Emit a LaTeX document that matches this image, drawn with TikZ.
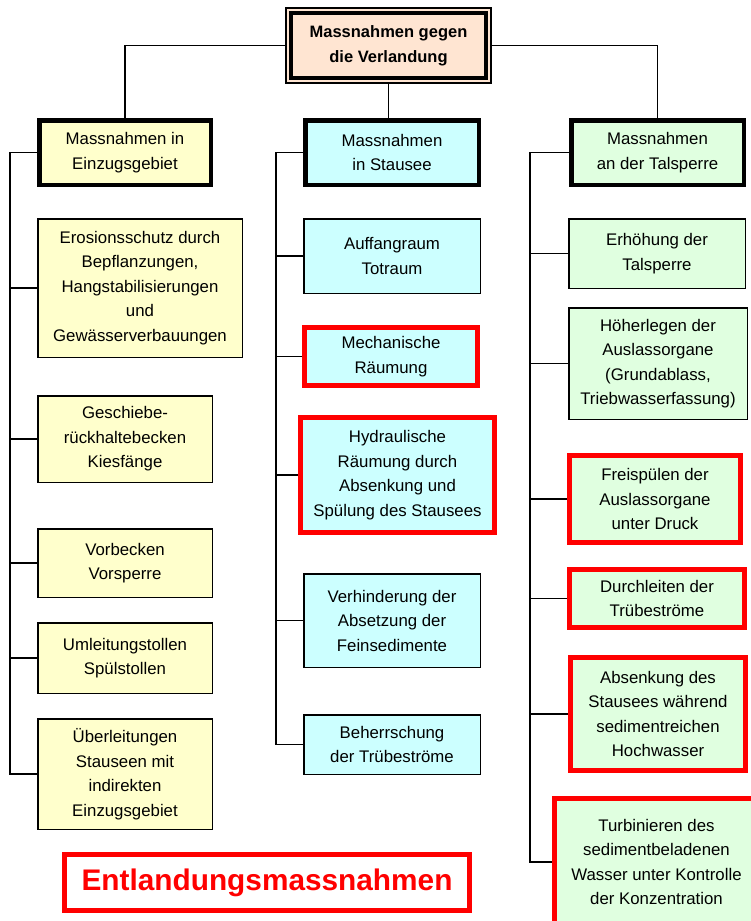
\documentclass[tikz,border=0pt]{standalone}
\usepackage{fontspec}
\setmainfont{Liberation Sans}
\usetikzlibrary{positioning}
\usetikzlibrary{backgrounds}
\definecolor{boxpeach}{RGB}{255,229,210}
\definecolor{boxyellow}{RGB}{255,255,204}
\definecolor{boxcyan}{RGB}{204,255,255}
\definecolor{boxgreen}{RGB}{224,255,224}
\tikzset{
  box_base/.style={draw=black, align=center, inner sep=0, line width=1.5pt, font=\fontsize{16.8}{24.5}\selectfont},
  box_top/.style={box_base, fill=boxpeach, font=\bfseries\fontsize{16.5}{25}\selectfont},
  box_head/.style={box_base, line width=4.5pt},
  box_red/.style={draw=red, line width=5pt},
  box_l/.style={fill=boxyellow},
  box_m/.style={fill=boxcyan},
  box_r/.style={fill=boxgreen},
  box_note/.style={draw=red, line width=5pt, fill=white, text=red, inner sep=0, font=\bfseries\fontsize{29.8}{34}\selectfont},
  line_tree/.style={line width=1.5pt, color=black}}

\begin{document}
\begin{tikzpicture}[x=1pt, y=-1pt]
\useasboundingbox (0,0) rectangle (750,921);

%% top
\node[box_top, minimum width=205, minimum height=75] at (388.5,45.5) (top) {Massnahmen gegen\\die Verlandung};
\draw[line width=4pt] ([shift={(6,6)}]top.north west) rectangle ([shift={(-6,-6)}]top.south east);

%% heads
\node[box_base, box_head, box_l, minimum width=171.5, minimum height=64.5] at (125,152.5)   (l0) {Massnahmen in\\Einzugsgebiet};
\node[box_base, box_head, box_m, minimum width=173.5, minimum height=64.5] at (392,152.5)   (m0) {Massnahmen\\in Stausee};
\node[box_base, box_head, box_r, minimum width=172.5, minimum height=64.5] at (657.5,152.5) (r0) {Massnahmen\\an der Talsperre};

%% Einzugsgebiet
\node[box_base, box_l, minimum width=204.5, minimum height=138.5] at (140,288) (l1) {Erosionsschutz durch\\Bepflanzungen,\\Hangstabilisierungen\\und\\Gewässerverbauungen};
\node[box_base, box_l, minimum width=174.5, minimum height=86.5]  at (125,439) (l2) {Geschiebe-\\rückhaltebecken\\Kiesfänge};
\node[box_base, box_l, minimum width=174.5, minimum height=68.5]  at (125,563) (l3) {Vorbecken\\Vorsperre};
\node[box_base, box_l, minimum width=174.5, minimum height=70.5]  at (125,658) (l4) {Umleitungstollen\\Spülstollen};
\node[box_base, box_l, minimum width=174.5, minimum height=110.5] at (125,774) (l5) {Überleitungen\\Stauseen mit\\indirekten\\Einzugsgebiet};

%% Stausee
\node[box_base, box_m, minimum width=176.5, minimum height=74.5] at (392,256)     (m1) {Auffangraum\\Totraum};
\node[box_base, box_m, box_red, minimum width=173, minimum height=58] at (391,356.5)   (m2) {Mechanische\\Räumung};
\node[box_base, box_m, box_red, minimum width=194, minimum height=115] at (397.5,475) (m3) {Hydraulische\\Räumung durch\\Absenkung und\\Spülung des Stausees};
\node[box_base, box_m, minimum width=176.5, minimum height=93.5] at (392,620.5)   (m4) {Verhinderung der\\Absetzung der\\Feinsedimente};
\node[box_base, box_m, minimum width=176.5, minimum height=59.5] at (392,744.5)   (m5) {Beherrschung\\der Trübeströme};

%% Talsperre
\node[box_base, box_r, minimum width=176.5, minimum height=69.5] at (657,253.5) (r1) {Erhöhung der\\Talsperre};
\node[box_base, box_r, minimum width=178.5, minimum height=111.5] at (658,363.5) (r2) {Höherlegen der\\Auslassorgane\\(Grundablass,\\Triebwasserfassung)};
\node[box_base, box_r, box_red, minimum width=171, minimum height=87]  at (655,499)   (r3) {Freispülen der\\Auslassorgane\\unter Druck};
\node[box_base, box_r, box_red, minimum width=175, minimum height=58]  at (657,598.5) (r4) {Durchleiten der\\Trübeströme};
\node[box_base, box_r, box_red, minimum width=175, minimum height=113] at (658,714)   (r5) {Absenkung des\\Stausees während\\sedimentreichen\\Hochwasser};
\node[box_base, box_r, box_red, minimum width=205, minimum height=127] at (656.5,862) (r6) {Turbinieren des\\sedimentbeladenen\\Wasser unter Kontrolle\\der Konzentration};

\node[box_note, minimum width=405, minimum height=56] at (267,882.5) (note) {Entlandungsmassnahmen};

\coordinate (sp_l) at (10,152.5);
\coordinate (sp_m) at (276,152.5);
\coordinate (sp_r) at (530,152.5);

%% connectors
\begin{pgfonlayer}{background}
\fill[white] (0,0) rectangle (750,921);

\draw[line_tree] (top.west) -| (l0.north);
\draw[line_tree] (top.east) -| (r0.north);
\draw[line_tree] (top.south) -- (top.south |- m0.north);

\draw[line_tree] (l0.west) -- (sp_l) |- (l1.west);
\draw[line_tree] (sp_l) |- (l2.west);
\draw[line_tree] (sp_l) |- (l3.west);
\draw[line_tree] (sp_l) |- (l4.west);
\draw[line_tree] (sp_l) |- (l5.west);

\draw[line_tree] (m0.west) -- (sp_m) |- (m1.west);
\draw[line_tree] (sp_m) |- (m2.west);
\draw[line_tree] (sp_m) |- (m3.west);
\draw[line_tree] (sp_m) |- (m4.west);
\draw[line_tree] (sp_m) |- (m5.west);

\draw[line_tree] (r0.west) -- (sp_r) |- (r1.west);
\draw[line_tree] (sp_r) |- (r2.west);
\draw[line_tree] (sp_r) |- (r3.west);
\draw[line_tree] (sp_r) |- (r4.west);
\draw[line_tree] (sp_r) |- (r5.west);
\draw[line_tree] (sp_r) |- (r6.west);
\end{pgfonlayer}

\end{tikzpicture}
\end{document}
